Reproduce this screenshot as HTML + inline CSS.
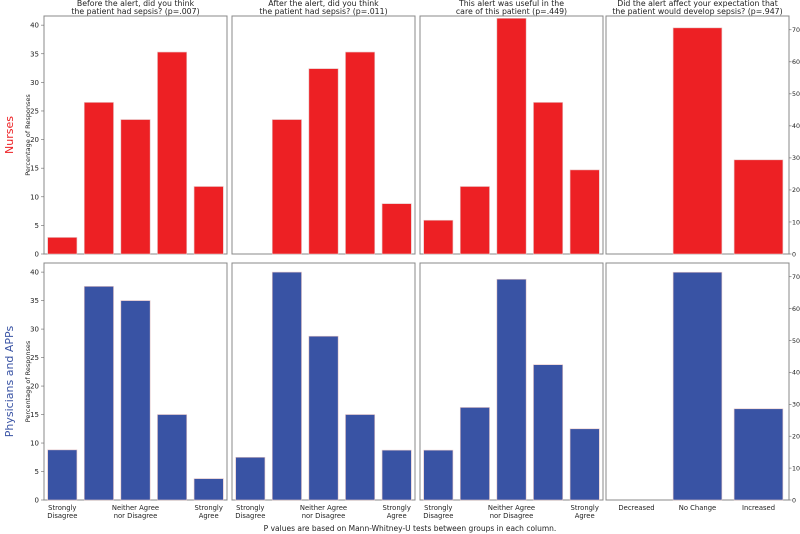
<!DOCTYPE html>
<html><head><meta charset="utf-8"><style>
body{margin:0;background:#fff;}
svg{display:block;font-family:"DejaVu Sans","Liberation Sans",sans-serif;}
</style></head><body>
<svg id="c" width="800" height="534" xmlns="http://www.w3.org/2000/svg"></svg>
<script>
const titles1=["Before the alert, did you think","After the alert, did you think","This alert was useful in the","Did the alert affect your expectation that"];
const titles2=["the patient had sepsis? (p=.007)","the patient had sepsis? (p=.011)","care of this patient (p=.449)","the patient would develop sepsis? (p=.947)"];
const likert=["Strongly Disagree","Disagree","Neither Agree nor Disagree","Agree","Strongly Agree"];
const changeCats=["Decreased","No Change","Increased"];
const nurses=[[2.9,26.5,23.5,35.3,11.8],[0,23.5,32.4,35.3,8.8],[5.9,11.8,41.2,26.5,14.7],[0,70.6,29.4]];
const physicians=[[8.8,37.5,35,15,3.75],[7.5,40,28.75,15,8.75],[8.75,16.25,38.75,23.75,12.5],[0,71.4,28.6]];
const leftTicks=[0,5,10,15,20,25,30,35,40];
const rightTicks=[0,10,20,30,40,50,60,70];
const leftMax=41.6, rightMax=74.3;

const svg=document.getElementById('c');
const NS='http://www.w3.org/2000/svg';
function mk(t,a,txt){const e=document.createElementNS(NS,t);for(const k in a)e.setAttribute(k,a[k]);if(txt!==undefined)e.textContent=txt;svg.appendChild(e);return e;}
const px=[44,232,420,606], pw=183;
const rows=[{top:16,bot:254,data:nurses,color:"#ed2024",label:"Nurses"},{top:263,bot:500,data:physicians,color:"#3953a4",label:"Physicians and APPs"}];
for(let c=0;c<4;c++){
  let t=mk('text',{x:px[c]+pw/2,y:6,'font-size':7.8,'text-anchor':'middle',fill:'#222'},titles1[c]);
  
  t=mk('text',{x:px[c]+pw/2,y:14,'font-size':7.8,'text-anchor':'middle',fill:'#222'},titles2[c]);
  
}
rows.forEach((r,ri)=>{
  const lab=mk('text',{x:0,y:0,'font-size':11,fill:r.color,'text-anchor':'middle',transform:`translate(13,${(r.top+r.bot)/2}) rotate(-90)`},r.label);
  
  const yt=mk('text',{x:0,y:0,'font-size':6.5,fill:'#222','text-anchor':'middle',transform:`translate(30,${(r.top+r.bot)/2}) rotate(-90)`},'Percentage of Responses');
  
  for(let c=0;c<4;c++){
    const vals=r.data[c];const n=vals.length;const max=c==3?rightMax:leftMax;
    const y=v=>r.bot-v/max*(r.bot-r.top);
    const step=pw/n;
    const fr=mk('rect',{x:px[c],y:r.top,width:pw,height:r.bot-r.top,fill:'none',stroke:'#888','stroke-width':1});
    
    vals.forEach((v,i)=>{
      const b=mk('rect',{x:px[c]+step*i+step*0.1,y:y(v),width:step*0.8,height:r.bot-y(v),fill:r.color,stroke:'#e8c8c8','stroke-width':0.6});
      
    });
    if(c==0){leftTicks.forEach(tv=>{
      const tl=mk('text',{x:39,y:y(tv)+2.5,'font-size':7,'text-anchor':'end',fill:'#222'},tv);
      
      mk('line',{x1:41,x2:44,y1:y(tv),y2:y(tv),stroke:'#666','stroke-width':0.6});
    });}
    if(c==3){rightTicks.forEach(tv=>{
      const tl=mk('text',{x:792,y:y(tv)+2.3,'font-size':6.3,'text-anchor':'start',fill:'#222'},tv);
      
      mk('line',{x1:789,x2:791.5,y1:y(tv),y2:y(tv),stroke:'#666','stroke-width':0.6});
    });}
    if(ri==1){
      if(c<3){
        [[0,'Strongly','Disagree'],[2,'Neither Agree','nor Disagree'],[4,'Strongly','Agree']].forEach(([i,a,b])=>{
          const cx=px[c]+step*(i+0.5);
          let t=mk('text',{x:cx,y:510,'font-size':6.8,'text-anchor':'middle',fill:'#222'},a);
          
          t=mk('text',{x:cx,y:518,'font-size':6.8,'text-anchor':'middle',fill:'#222'},b);
          
        });
      } else {
        changeCats.forEach((nm,i)=>{
          const t=mk('text',{x:px[c]+step*(i+0.5),y:510,'font-size':6.8,'text-anchor':'middle',fill:'#222'},nm);
          
        });
      }
    }
  }
});
const f=mk('text',{x:410,y:531,'font-size':7.5,'text-anchor':'middle',fill:'#222'},'P values are based on Mann-Whitney-U tests between groups in each column.');

</script>
</body></html>
